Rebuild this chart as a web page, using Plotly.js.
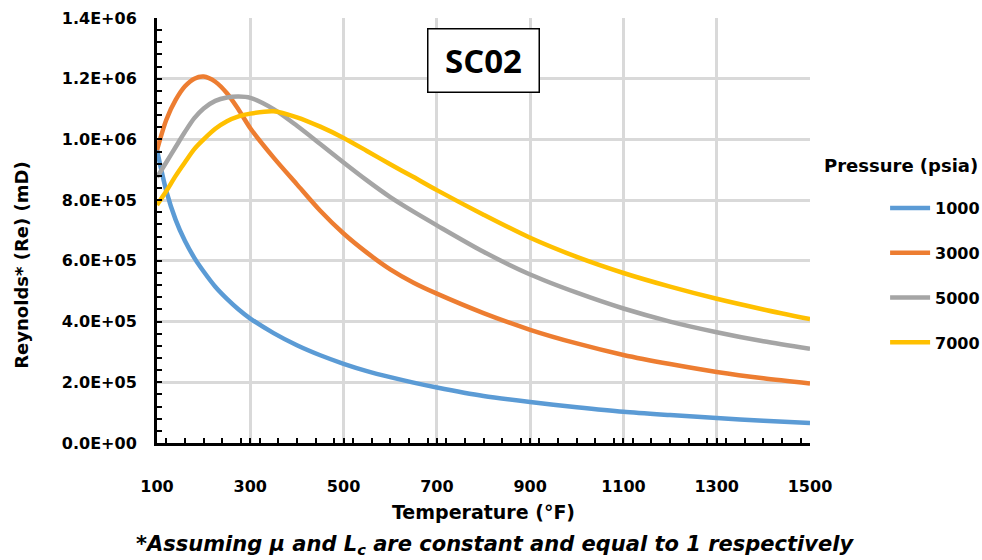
<!DOCTYPE html>
<html>
<head>
<meta charset="utf-8">
<script src="https://cdn.plot.ly/plotly-3.0.1.min.js"></script>
<style>html,body{margin:0;padding:0;background:#fff;}#chart{width:982px;height:560px;}</style>
</head>
<body>
<div id="chart"></div>
<script>
const temperature = [100, 120, 140, 160, 180, 200, 225, 250, 275, 300, 350, 400, 450, 500, 550, 600, 650, 700, 800, 900, 1000, 1100, 1200, 1300, 1400, 1500];
const pressureLabels = ["1000", "3000", "5000", "7000"];
const re1000 = [965000, 830000, 735000, 665000, 610000, 565000, 515000, 475000, 440000, 410000, 362000, 322000, 289000, 261000, 237000, 217000, 199000, 183000, 155000, 135000, 118000, 103000, 92000, 82000, 73000, 66000];
const re3000 = [965000, 1065000, 1130000, 1175000, 1200000, 1207000, 1190000, 1152000, 1098000, 1037000, 940000, 852000, 765000, 690000, 627000, 572000, 528000, 492000, 428000, 373000, 328000, 290000, 260000, 234000, 213000, 196000];
const re5000 = [875000, 925000, 975000, 1025000, 1070000, 1102000, 1127000, 1138000, 1141000, 1137000, 1100000, 1045000, 985000, 924000, 865000, 810000, 762000, 717000, 630000, 555000, 495000, 443000, 400000, 365000, 335000, 310000];
const re7000 = [784000, 830000, 880000, 925000, 968000, 1000000, 1035000, 1060000, 1076000, 1085000, 1093000, 1073000, 1042000, 1005000, 962000, 918000, 876000, 833000, 752000, 676000, 613000, 560000, 515000, 475000, 440000, 408000];
const seriesColors = ["#5B9BD5", "#ED7D31", "#A5A5A5", "#FFC000"];
const xTickVals = [100, 300, 500, 700, 900, 1100, 1300, 1500];
const yTickVals = [0, 200000, 400000, 600000, 800000, 1000000, 1200000, 1400000];
const yTickText = ["0.0E+00", "2.0E+05", "4.0E+05", "6.0E+05", "8.0E+05", "1.0E+06", "1.2E+06", "1.4E+06"];

const allSeries = [re1000, re3000, re5000, re7000];
const font = "DejaVu Sans, Liberation Sans, sans-serif";

const traces = allSeries.map((ys, i) => ({
  x: temperature, y: ys, type: "scatter", mode: "lines",
  name: pressureLabels[i], legendgroup: "g" + i,
  line: {color: seriesColors[i], width: 4.5, shape: "spline", smoothing: 0.8},
  hoverinfo: "x+y+name"
}));

const layout = {
  width: 982, height: 560,
  margin: {l: 157, r: 172, t: 18, b: 117, autoexpand: false},
  paper_bgcolor: "#fff", plot_bgcolor: "#fff",
  font: {family: font, color: "#000", size: 16},
  showlegend: true,
  legend: {x: 1.115, xanchor: "left", y: 0.593, yanchor: "top",
    font: {family: font, size: 16, color: "#000", weight: "bold"},
    itemwidth: 40, tracegroupgap: 21, bgcolor: "rgba(0,0,0,0)"},
  xaxis: {
    range: [100, 1500], tickvals: xTickVals, ticktext: xTickVals.map(String),
    showgrid: true, gridcolor: "#D9D9D9", gridwidth: 3,
    showline: true, linecolor: "#000", linewidth: 3,
    ticks: "inside", ticklen: 5, tickwidth: 2, tickcolor: "#000",
    minor: {dtick: 40, ticks: "inside", ticklen: 5, tickwidth: 2, tickcolor: "#000", showgrid: false},
    ticklabelstandoff: 27,
    tickfont: {family: font, size: 16, weight: "bold", color: "#000"},
    zeroline: false,
    title: {text: "Temperature (°F)", font: {family: font, size: 19, weight: "bold", color: "#000"}, standoff: 11}
  },
  yaxis: {
    range: [0, 1400000], tickvals: yTickVals, ticktext: yTickText,
    showgrid: true, gridcolor: "#D9D9D9", gridwidth: 3,
    showline: true, linecolor: "#000", linewidth: 3,
    ticks: "inside", ticklen: 5, tickwidth: 2, tickcolor: "#000",
    minor: {dtick: 40000, ticks: "inside", ticklen: 5, tickwidth: 2, tickcolor: "#000", showgrid: false},
    ticklabelstandoff: 14,
    tickfont: {family: font, size: 16, weight: "bold", color: "#000"},
    zeroline: false
  },
  annotations: [
    {text: "<b>Reynolds* (Re) (mD)</b>", xref: "paper", yref: "paper", x: -0.207, y: 0.419, xanchor: "center", yanchor: "middle",
      textangle: -90, showarrow: false, font: {family: font, size: 18, color: "#000"}},
    {text: "<b>SC02</b>", xref: "paper", yref: "paper", x: 0.5, y: 0.901, xanchor: "center", yanchor: "middle",
      showarrow: false, font: {family: "Open Sans, Liberation Sans, sans-serif", size: 33, color: "#000"},
      bordercolor: "#000", borderwidth: 1.5, borderpad: 10, bgcolor: "#fff", width: 90, height: 42},
    {text: "<b>Pressure (psia)</b>", xref: "paper", yref: "paper", x: 1.018, y: 0.654, xanchor: "left", yanchor: "middle",
      showarrow: false, font: {family: font, size: 18, color: "#000"}},
    {text: "<b><i>*Assuming μ and L<sub>c</sub> are constant and equal to 1 respectively</i></b>", xref: "paper", yref: "paper",
      x: 0.518, y: -0.24, xanchor: "center", yanchor: "middle", showarrow: false,
      font: {family: font, size: 21, color: "#000"}}
  ]
};

Plotly.newPlot("chart", traces, layout, {displayModeBar: false, staticPlot: true});
</script>
</body>
</html>
